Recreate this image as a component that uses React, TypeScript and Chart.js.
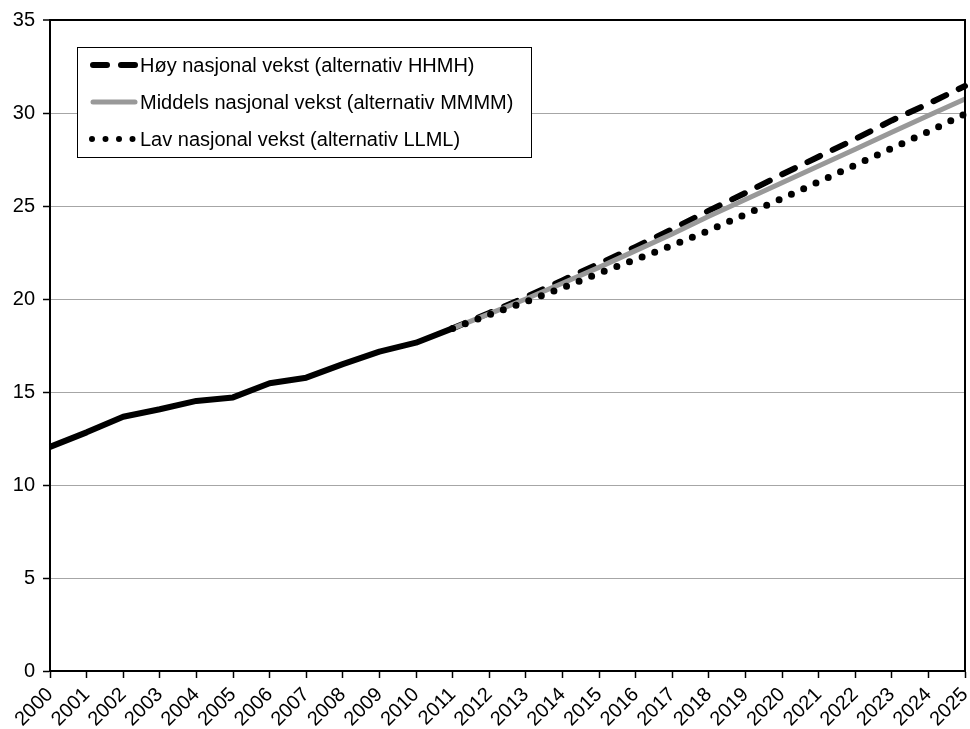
import React, { useEffect, useRef } from "react";
import { Chart, registerables } from "chart.js";

Chart.register(...registerables);

const years = [
  "2000", "2001", "2002", "2003", "2004", "2005", "2006", "2007", "2008",
  "2009", "2010", "2011", "2012", "2013", "2014", "2015", "2016", "2017",
  "2018", "2019", "2020", "2021", "2022", "2023", "2024", "2025",
];

// 2000-2011 observed
const historical = [12.05, 12.83, 13.67, 14.07, 14.52, 14.71, 15.47, 15.77, 16.5, 17.17, 17.65, 18.42];

// 2011-2025 projections
const high = [18.42, 19.25, 20.1, 21.0, 21.9, 22.8, 23.75, 24.75, 25.7, 26.7, 27.65, 28.6, 29.6, 30.5, 31.45];
const middle = [18.42, 19.2, 20.0, 20.85, 21.7, 22.6, 23.5, 24.45, 25.35, 26.25, 27.15, 28.05, 28.97, 29.87, 30.75];
const low = [18.42, 19.15, 19.85, 20.6, 21.38, 22.12, 22.88, 23.68, 24.55, 25.4, 26.3, 27.2, 28.1, 29.0, 29.95];

const seriesNames = [
  "Høy nasjonal vekst (alternativ HHMH)",
  "Middels nasjonal vekst (alternativ MMMM)",
  "Lav nasjonal vekst (alternativ LLML)",
];

const yTicks = [0, 5, 10, 15, 20, 25, 30, 35];

const FONT = "'Liberation Sans', Arial, sans-serif";
const GREY = "#999999";

function padForecast(vals: number[]): (number | null)[] {
  const lead = years.length - vals.length;
  return [...Array(lead).fill(null), ...vals];
}

const legendPlugin = {
  id: "customLegend",
  afterDatasetsDraw(chart: any) {
    const { ctx, chartArea } = chart;
    ctx.save();
    // right border of plot area
    ctx.strokeStyle = "#000";
    ctx.lineWidth = 2;
    ctx.beginPath();
    ctx.moveTo(chartArea.right, chartArea.top - 1);
    ctx.lineTo(chartArea.right, chartArea.bottom);
    ctx.stroke();

    // legend box
    const bx = 77, by = 47, bw = 454, bh = 110;
    ctx.fillStyle = "#fff";
    ctx.fillRect(bx, by, bw, bh);
    ctx.strokeStyle = "#000";
    ctx.lineWidth = 1;
    ctx.strokeRect(bx + 0.5, by + 0.5, bw, bh);

    const rows = [65, 102, 139];
    const styles = [
      { color: "#000", width: 6, dash: [14, 14], x0: 93, x1: 135 },
      { color: GREY, width: 5, dash: [], x0: 93, x1: 135 },
      { color: "#000", width: 6, dash: [0, 13.5], x0: 92, x1: 134 },
    ];
    ctx.font = `20px ${FONT}`;
    ctx.textBaseline = "middle";
    ctx.textAlign = "left";
    rows.forEach((ry, i) => {
      const s = styles[i];
      ctx.strokeStyle = s.color;
      ctx.lineWidth = s.width;
      ctx.lineCap = "round";
      ctx.setLineDash(s.dash);
      ctx.beginPath();
      ctx.moveTo(s.x0, ry);
      ctx.lineTo(s.x1, ry);
      ctx.stroke();
      ctx.setLineDash([]);
      ctx.fillStyle = "#000";
      ctx.fillText(seriesNames[i], 140, ry + 1);
    });
    ctx.restore();
  },
};

export default function App() {
  const ref = useRef<HTMLCanvasElement | null>(null);

  useEffect(() => {
    if (!ref.current) return;
    const chart = new Chart(ref.current, {
      type: "line",
      data: {
        labels: years,
        datasets: [
          {
            label: "Historisk",
            data: historical,
            borderColor: "#000",
            borderWidth: 6,
            pointRadius: 0,
            tension: 0,
            order: 0,
            borderJoinStyle: "round",
          },
          {
            label: seriesNames[2],
            data: padForecast(low),
            borderColor: "#000",
            borderWidth: 7,
            borderDash: [0, 13.5],
            borderCapStyle: "round",
            pointRadius: 0,
            tension: 0,
            order: 1,
          },
          {
            label: seriesNames[1],
            data: padForecast(middle),
            borderColor: GREY,
            borderWidth: 5,
            pointRadius: 0,
            tension: 0,
            order: 2,
          },
          {
            label: seriesNames[0],
            data: padForecast(high),
            borderColor: "#000",
            borderWidth: 6,
            borderDash: [14, 14],
            borderCapStyle: "round",
            pointRadius: 0,
            tension: 0,
            order: 3,
          },
        ],
      },
      options: {
        animation: false,
        responsive: true,
        maintainAspectRatio: false,
        layout: { padding: { top: 20, right: 5, left: 0, bottom: 0 } },
        plugins: {
          legend: { display: false },
          tooltip: { enabled: false },
        },
        scales: {
          x: {
            type: "category",
            offset: false,
            ticks: {
              autoSkip: false,
              maxRotation: 45,
              minRotation: 45,
              color: "#000",
              padding: 5,
              font: { family: FONT, size: 20 },
            },
            grid: {
              drawOnChartArea: false,
              drawTicks: true,
              tickLength: 7,
              tickColor: "#000",
              tickWidth: 1.5,
            },
            border: { color: "#000", width: 2 },
            afterFit: (scale: any) => {
              scale.height = 58;
              scale.paddingRight = 0;
              scale.paddingLeft = 0;
            },
          },
          y: {
            min: 0,
            max: 35,
            afterBuildTicks: (scale: any) => {
              scale.ticks = yTicks.map((v) => ({ value: v }));
            },
            ticks: {
              color: "#000",
              padding: 8,
              font: { family: FONT, size: 20 },
            },
            grid: {
              color: (c: any) => (c.tick && c.tick.value === 35 ? "#000" : "#a6a6a6"),
              lineWidth: (c: any) => (c.tick && c.tick.value === 35 ? 2 : 1),
              tickLength: 7,
              tickColor: "#000",
              tickWidth: 1.5,
            },
            border: { color: "#000", width: 2 },
            afterFit: (scale: any) => {
              scale.width = 50;
            },
          },
        },
      },
      plugins: [legendPlugin],
    });
    return () => chart.destroy();
  }, []);

  return (
    <div style={{ position: "fixed", left: 0, top: 0, width: 970, height: 729, background: "#fff" }}>
      <canvas ref={ref} />
    </div>
  );
}
